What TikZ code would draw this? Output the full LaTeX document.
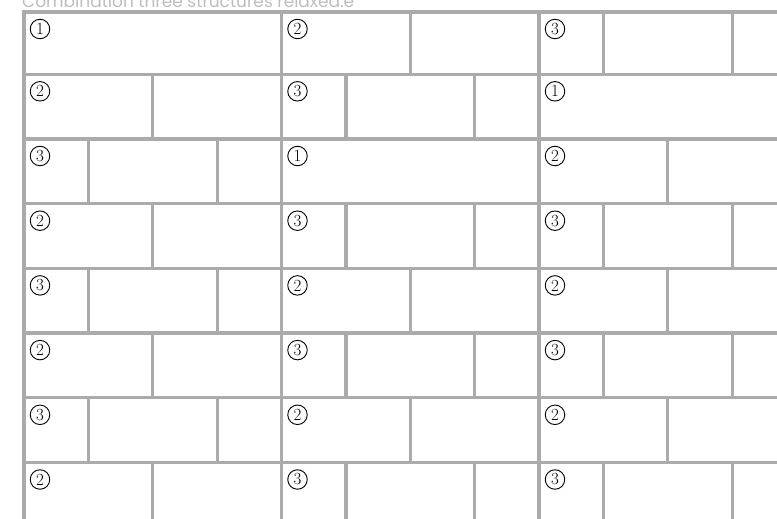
\documentclass[tikz,border=0pt]{standalone}
\usepackage{fontspec}
\newfontfamily\titlefont{Poppins}
\usetikzlibrary{positioning}
\definecolor{mortar}{HTML}{ABABAB}
\definecolor{caption}{HTML}{BDBDBD}
\tikzset{
  cell/.style={
    shape = rectangle,
    draw = mortar,
    line width = 3.3pt,
    inner sep = 0pt,
    outer sep = 0pt,
    anchor = north west
  },
  num/.style={
    shape = circle,
    draw,
    line width = 0.9pt,
    inner sep = 0pt,
    minimum size = 19.5pt,
    font = \fontsize{17}{17}\selectfont
  },
}

\begin{document}
\begin{tikzpicture}[x=1pt,y=-1pt]
  \useasboundingbox (0,0) rectangle (777,519);
  \node[anchor=base west, text=caption, inner sep=0pt,
        font=\titlefont\fontsize{17}{17}\selectfont] (title) at (22,8)
        {Combination three structures relaxed.e};
  % one brick course per row, three blocks per row
  \foreach \kind [count=\i from 0] in {1,2,3, 2,3,1, 3,1,2, 2,3,3,
                                       3,2,2, 2,3,3, 3,2,2, 2,3,3} {
    \pgfmathtruncatemacro\row{int(\i/3)}
    \pgfmathtruncatemacro\col{mod(\i,3)}
    \pgfmathsetmacro\xo{24+257.5*\col}
    \pgfmathsetmacro\yo{\row==0 ? 12 : 74.3+64.7*(\row-1)}
    \pgfmathsetmacro\hh{\row==0 ? 62.3 : 64.7}
    \ifcase\kind\or
      \node[cell, minimum height=\hh pt, minimum width=257.5pt] (b-\row-\col-a) at (\xo,\yo) {};
      \node[num] (n-\row-\col) at (\xo+16,\yo+17) {1};
    \or
      \node[cell, minimum height=\hh pt, minimum width=128.75pt] (b-\row-\col-a) at (\xo,\yo) {};
      \node[cell, minimum height=\hh pt, minimum width=128.75pt] (b-\row-\col-b) at (b-\row-\col-a.north east) {};
      \node[num] (n-\row-\col) at (\xo+16,\yo+17) {2};
    \or
      \node[cell, minimum height=\hh pt, minimum width=64.4pt] (b-\row-\col-a) at (\xo,\yo) {};
      \node[cell, minimum height=\hh pt, minimum width=128.75pt] (b-\row-\col-b) at (b-\row-\col-a.north east) {};
      \node[cell, minimum height=\hh pt, minimum width=64.35pt] (b-\row-\col-c) at (b-\row-\col-b.north east) {};
      \node[num] (n-\row-\col) at (\xo+16,\yo+17) {3};
    \fi
  }
\end{tikzpicture}
\end{document}
